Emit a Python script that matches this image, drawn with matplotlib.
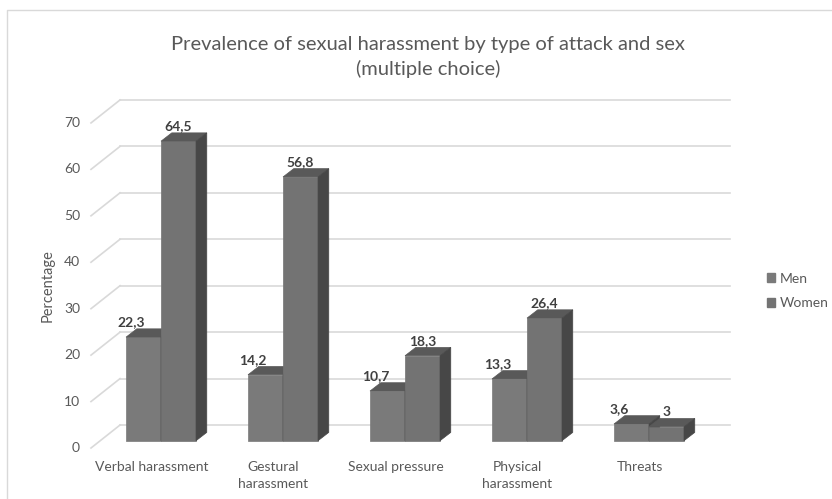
import matplotlib.pyplot as plt
from matplotlib.patches import Polygon, Patch
from matplotlib.lines import Line2D

plt.rcParams['font.family'] = ['Lato', 'DejaVu Sans']

# survey results, percent
categories = ['Verbal harassment', 'Gestural\nharassment', 'Sexual pressure',
              'Physical\nharassment', 'Threats']
men = [22.3, 14.2, 10.7, 13.3, 3.6]
women = [64.5, 56.8, 18.3, 26.4, 3.0]
series_names = ['Men', 'Women']
yticks = [0, 10, 20, 30, 40, 50, 60, 70]

title = ('Prevalence of sexual harassment by type of attack and sex\n'
         '(multiple choice)')

text_col = '#595959'
grid_col = '#d9d9d9'
front_cols = ['#7a7a7a', '#737373']
top_col = '#595959'
side_col = '#474747'

# fake 3d geometry (data units)
bar_w = 0.287
depth_dx, depth_dy = 0.088, 1.79
wall_front_x, wall_back_x, wall_right_x = -0.574, -0.336, 4.664
wall_front_dy, wall_back_dy = -1.57, 3.38

fig = plt.figure(figsize=(8.32, 4.99), dpi=100)
ax = fig.add_axes([0, 0, 1, 1])
ax.set_xlim(-1.32, 5.5)
ax.set_ylim(-12.55, 94.9)
ax.axis('off')

# walls: gridlines on the back, diagonals on the left side
for v in yticks:
    ax.plot([wall_back_x, wall_right_x], [v + wall_back_dy] * 2,
            color=grid_col, lw=1.2, zorder=0)
    ax.plot([wall_front_x, wall_back_x], [v + wall_front_dy, v + wall_back_dy],
            color=grid_col, lw=1.2, zorder=0)
    ax.text(wall_front_x - 0.09, v + wall_front_dy, str(v), ha='right', va='center',
            fontsize=10, color=text_col)


def fmt(v):
    return f'{v:g}'.replace('.', ',')


def bar3d(left, val, col, z):
    right = left + bar_w
    ax.bar(left, val, bar_w, align='edge', color=col, edgecolor=col, lw=0.5, zorder=z)
    top = [(left, val), (left + depth_dx, val + depth_dy),
           (right + depth_dx, val + depth_dy), (right, val)]
    side = [(right, 0), (right + depth_dx, depth_dy),
            (right + depth_dx, val + depth_dy), (right, val)]
    ax.add_patch(Polygon(top, closed=True, fc=top_col, ec=top_col, lw=0.5, zorder=z))
    ax.add_patch(Polygon(side, closed=True, fc=side_col, ec=side_col, lw=0.5, zorder=z))


for i, (m, w) in enumerate(zip(men, women)):
    bar3d(i - bar_w, m, front_cols[0], 2 + 2 * i)
    bar3d(i, w, front_cols[1], 3 + 2 * i)
    ax.text(i - bar_w / 2 - 0.1, m + 3.2, fmt(m), ha='center', va='center',
            fontsize=10, fontweight='bold', color='#404040', zorder=20)
    ax.text(i + bar_w / 2, w + 3.2, fmt(w), ha='center', va='center',
            fontsize=10, fontweight='bold', color='#404040', zorder=20)
    ax.text(i - 0.078, -4.3, categories[i], ha='center', va='top',
            fontsize=10, color=text_col, linespacing=1.5)

ax.text(-0.926, 33.5, 'Percentage', rotation=90, ha='center', va='center',
        fontsize=10.5, color=text_col)

handles = [Patch(color=c) for c in front_cols]
ax.legend(handles, series_names, loc='center left', bbox_to_anchor=(767 / 832, 1 - 291 / 499),
          frameon=False, borderpad=0, borderaxespad=0,
          handlelength=0.6, handleheight=0.6, handletextpad=0.3,
          labelspacing=0.9, fontsize=10, labelcolor=text_col)

fig.text(428 / 832, 1 - 57 / 499, title, ha='center', va='center',
         fontsize=14.5, color=text_col, linespacing=1.45)

# chart area border
fig.add_artist(Line2D([7 / 832, 7 / 832, 1], [0, 1 - 10 / 499, 1 - 10 / 499],
                      transform=fig.transFigure, color=grid_col, lw=1))

fig.savefig('out.png', dpi=100)
